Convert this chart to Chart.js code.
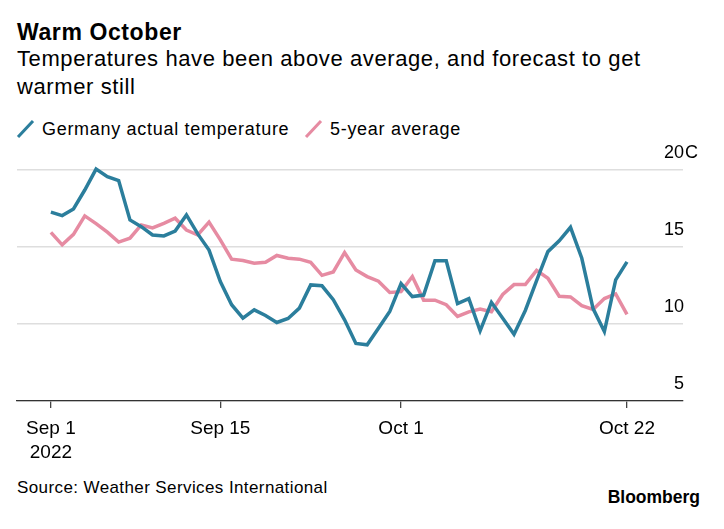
<!DOCTYPE html>
<html>
<head>
<meta charset="utf-8">
<script src="https://cdn.jsdelivr.net/npm/chart.js@4.4.0/dist/chart.umd.min.js"></script>
<style>
body { margin:0; background:#fff; width:724px; height:529px; position:relative; overflow:hidden; font-family:"Liberation Sans", Arial, sans-serif; color:#000; }
.t { position:absolute; white-space:nowrap; }
#title { left:17px; top:18px; font-size:23px; line-height:28px; font-weight:bold; letter-spacing:0.6px; }
#sub { left:17px; top:45px; font-size:22px; line-height:27.6px; letter-spacing:0.6px; }
.lg { top:118px; font-size:18px; line-height:22px; letter-spacing:0.7px; }
.ic { position:absolute; top:119px; }
#source { left:17px; top:478px; font-size:17px; line-height:20px; letter-spacing:0.4px; }
#brand { right:24px; top:487px; font-size:17.5px; line-height:20px; font-weight:bold; }
#wrap { position:absolute; left:0; top:140px; width:724px; height:330px; }
</style>
</head>
<body>
<div class="t" id="title">Warm October</div>
<div class="t" id="sub">Temperatures have been above average, and forecast to get<br>warmer still</div>

<svg class="ic" style="left:16px" width="20" height="20"><line x1="2" y1="18" x2="17" y2="2" stroke="#2b7e9c" stroke-width="3"/></svg>
<div class="t lg" style="left:42px">Germany actual temperature</div>
<svg class="ic" style="left:304px" width="20" height="20"><line x1="2" y1="18" x2="17" y2="2" stroke="#e68ba2" stroke-width="3"/></svg>
<div class="t lg" style="left:330px">5-year average</div>

<div id="wrap"><canvas id="chart" width="724" height="330"></canvas></div>

<div class="t" id="source">Source: Weather Services International</div>
<div class="t" id="brand">Bloomberg</div>

<script>
// daily values, Sep 1 .. Oct 22 (index = day)
var actual = [17.26, 17.04, 17.47, 18.7, 20.06, 19.57, 19.31, 16.76, 16.32, 15.78,
  15.72, 16.04, 17.08, 15.85, 14.8, 12.76, 11.25, 10.38, 10.92, 10.55,
  10.1, 10.36, 11.03, 12.54, 12.48, 11.58, 10.27, 8.74, 8.65, 9.73,
  10.82, 12.63, 11.78, 11.88, 14.11, 14.11, 11.32, 11.65, 9.56, 11.41,
  10.38, 9.33, 10.88, 12.82, 14.7, 15.4, 16.28, 14.27, 11.0, 9.51,
  12.87, 14.03];
var average = [15.95, 15.14, 15.82, 17.02, 16.52, 15.96, 15.32, 15.57, 16.43, 16.24,
  16.54, 16.87, 16.1, 15.78, 16.62, 15.46, 14.21, 14.12, 13.95, 14.01,
  14.45, 14.27, 14.21, 14.0, 13.16, 13.38, 14.64, 13.51, 13.08, 12.78,
  12.05, 12.1, 13.08, 11.55, 11.55, 11.25, 10.49, 10.79, 10.97, 10.8,
  11.92, 12.56, 12.56, 13.48, 12.97, 11.8, 11.76, 11.19, 10.94, 11.65,
  11.95, 10.62];
var seriesNames = ["Germany actual temperature", "5-year average"];
var seriesColors = ["#2b7e9c", "#e68ba2"];
var tickIdx = [0, 15, 31, 51];
var tickLabels = [["Sep 1", "2022"], "Sep 15", "Oct 1", "Oct 22"];
var yTicks = [5, 10, 15, 20];
var yUnit = "C";

Chart.defaults.font.family = '"Liberation Sans", Arial, sans-serif';
Chart.defaults.color = "#000";

function pts(arr){
  var out = [];
  for (var i = 0; i < arr.length; i++) out.push({x: i, y: arr[i]});
  return out;
}

var yLabels = {
  id: "yLabels",
  afterDraw: function(chart){
    var ctx = chart.ctx, y = chart.scales.y;
    ctx.save();
    ctx.font = '18px "Liberation Sans", Arial, sans-serif';
    ctx.fillStyle = "#000";
    ctx.textBaseline = "alphabetic";
    yTicks.forEach(function(v, i){
      var py = y.getPixelForValue(v) - 11.7;
      ctx.textAlign = "right";
      ctx.fillText(String(v), 684, py);
      if (i == yTicks.length - 1) {
        ctx.textAlign = "left";
        ctx.fillText(yUnit, 685, py);
      }
    });
    ctx.restore();
  }
};

var g = new Chart(document.getElementById("chart"), {
  type: "line",
  data: {
    datasets: [
      { label: seriesNames[0], data: pts(actual), borderColor: seriesColors[0], borderWidth: 3.5, pointRadius: 0, clip: false },
      { label: seriesNames[1], data: pts(average), borderColor: seriesColors[1], borderWidth: 3.5, pointRadius: 0, clip: false }
    ]
  },
  options: {
    responsive: false,
    animation: false,
    devicePixelRatio: 1,
    layout: { padding: { left: 17, right: 41, top: 30, bottom: 0 } },
    plugins: { legend: { display: false }, tooltip: { enabled: false } },
    scales: {
      x: {
        type: "linear", min: -3, max: 55.96,
        afterBuildTicks: function(s){ s.ticks = tickIdx.map(function(v){ return {value: v}; }); },
        afterFit: function(s){ s.height = 69; },
        grid: { drawOnChartArea: false, drawTicks: true, tickLength: 7, color: "#444", lineWidth: 1.3 },
        border: { display: true, color: "#333", width: 1.3 },
        ticks: {
          padding: 9, color: "#000", font: { size: 19, lineHeight: 1.25 }, maxRotation: 0, autoSkip: false,
          callback: function(v){ return tickLabels[tickIdx.indexOf(v)]; }
        }
      },
      y: {
        min: 5, max: 20,
        afterFit: function(s){ s.width = 0; },
        ticks: { display: false, stepSize: 5 },
        border: { display: false },
        grid: { color: "#dedede", lineWidth: 1.5, drawTicks: false }
      }
    }
  },
  plugins: [yLabels]
});
</script>
</body>
</html>
